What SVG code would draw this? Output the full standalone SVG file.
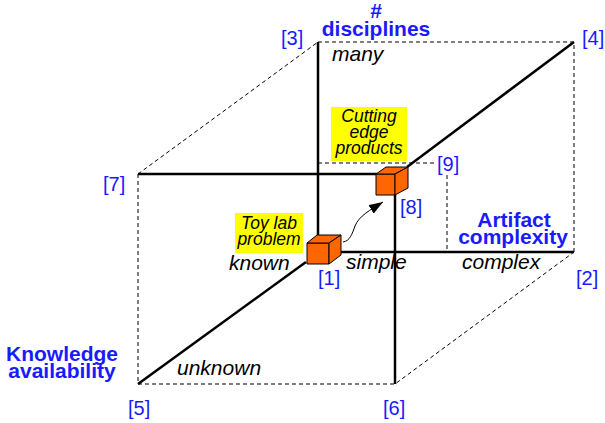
<svg xmlns="http://www.w3.org/2000/svg" width="605" height="423" viewBox="0 0 605 423">
<style>
text{font-family:"Liberation Sans",Arial,sans-serif}
.solid{stroke:#000;stroke-width:2.5;fill:none}
.dash{stroke:#000;stroke-width:1;fill:none;stroke-dasharray:4,3}
.ax{fill:#1a1aff;font-weight:bold;font-size:21px;text-anchor:middle}
.val{fill:#000;font-style:italic;font-size:21px}
.num{fill:#1a1aff;font-size:20px}
.note{fill:#000;font-style:italic;font-size:17.5px;text-anchor:middle}
.box{fill:#ffff00}
.cube{fill:#ff6600;stroke:#000;stroke-width:1;stroke-linejoin:round}
</style>
<defs>
<marker id="ah" viewBox="0 0 14 10" refX="14" refY="5" markerWidth="14" markerHeight="10" markerUnits="userSpaceOnUse" orient="auto">
<path d="M0,0 L14,5 L0,10 z" fill="#000"/>
</marker>
</defs>
<g id="connectors">
<path class="dash" d="M318,42 L574,42 L574,252"/>
<path class="dash" d="M138,174 L318,42"/>
<path class="dash" d="M138,174 L138,384 L395,384 L574,252"/>
<path class="dash" d="M318,163 L437,163"/>
<path class="dash" d="M447,175 L447,252"/>
<path class="solid" d="M318,42 L318,236"/>
<path class="solid" d="M341,252 L574,252"/>
<path class="solid" d="M138,174 L377,174"/>
<path class="solid" d="M395,195 L395,384"/>
<path class="solid" d="M138,384 L306,262"/>
<path class="solid" d="M407,167 L574,42"/>
<path d="M343,242 C350,241 352,234 355,226 C359,216 370,210 383,202" fill="none" stroke="#000" stroke-width="1" marker-end="url(#ah)"/>
</g>
<g id="axis-disciplines">
<text class="ax" x="376" y="18">#</text>
<text class="ax" x="376" y="36">disciplines</text>
<text class="val" x="332" y="61">many</text>
</g>
<g id="axis-artifact">
<text class="ax" x="514" y="227">Artifact</text>
<text class="ax" x="513" y="244">complexity</text>
<text class="val" x="346" y="269">simple</text>
<text class="val" x="462" y="269">complex</text>
</g>
<g id="axis-knowledge">
<text class="ax" x="62" y="361">Knowledge</text>
<text class="ax" x="62" y="378">availability</text>
<text class="val" x="229" y="270">known</text>
<text class="val" x="177" y="375">unknown</text>
</g>
<g id="corners">
<text class="num" x="281" y="45">[3]</text>
<text class="num" x="582" y="45">[4]</text>
<text class="num" x="103" y="191">[7]</text>
<text class="num" x="437" y="171">[9]</text>
<text class="num" x="400" y="214">[8]</text>
<text class="num" x="318" y="285">[1]</text>
<text class="num" x="576" y="285">[2]</text>
<text class="num" x="128" y="415">[5]</text>
<text class="num" x="383" y="415">[6]</text>
</g>
<g id="toy-lab-problem">
<rect class="box" x="235" y="213" width="68" height="40"/>
<text class="note" x="269" y="229">Toy lab</text>
<text class="note" x="269" y="245">problem</text>
<polygon class="cube" points="307,243 329,243 329,264 307,264"/>
<polygon class="cube" points="307,243 317,235 341,235 329,243"/>
<polygon class="cube" points="329,243 341,235 341,255 329,264"/>
</g>
<g id="cutting-edge-products">
<rect class="box" x="331" y="107" width="76" height="54"/>
<text class="note" x="369" y="122">Cutting</text>
<text class="note" x="369" y="138">edge</text>
<text class="note" x="369" y="154">products</text>
<polygon class="cube" points="376,174 395,174 395,195 376,195"/>
<polygon class="cube" points="376,174 386,167 408,167 395,174"/>
<polygon class="cube" points="395,174 408,167 408,188 395,195"/>
</g>
</svg>
